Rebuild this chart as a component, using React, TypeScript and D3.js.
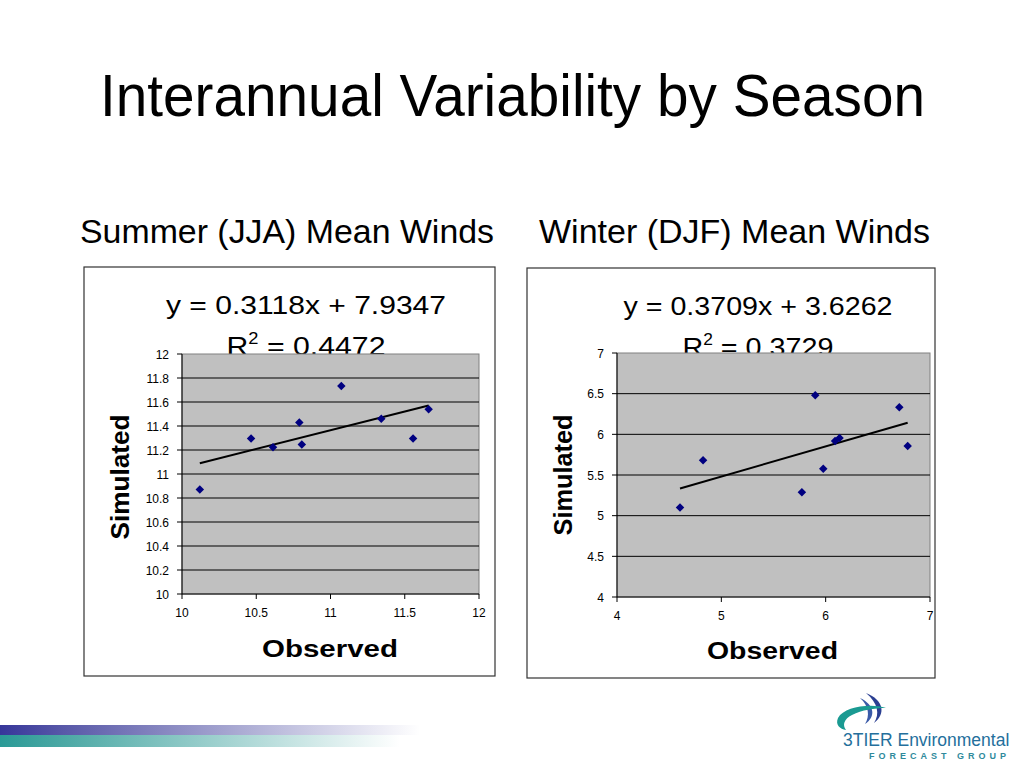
import React from "react";
import * as d3 from "d3";

// summer (JJA) observed vs simulated mean winds
const summerObs = [10.12, 10.465, 10.613, 10.79, 10.807, 11.073, 11.342, 11.556, 11.661];
const summerSim = [10.87, 11.295, 11.222, 11.43, 11.245, 11.733, 11.461, 11.295, 11.539];
const summerXTicks = [10, 10.5, 11, 11.5, 12];
const summerYTicks = [10, 10.2, 10.4, 10.6, 10.8, 11, 11.2, 11.4, 11.6, 11.8, 12];

// winter (DJF)
const winterObs = [4.604, 4.825, 5.772, 5.9, 5.977, 6.09, 6.133, 6.706, 6.786];
const winterSim = [5.1, 5.68, 5.287, 6.48, 5.578, 5.918, 5.955, 6.332, 5.857];
const winterXTicks = [4, 5, 6, 7];
const winterYTicks = [4, 4.5, 5, 5.5, 6, 6.5, 7];

const FONT = "'Liberation Sans', Arial, sans-serif";

interface Fit {
  slope: number;
  intercept: number;
  r2: string;
  eq: string;
}

const summerFit: Fit = { slope: 0.3118, intercept: 7.9347, eq: "y = 0.3118x + 7.9347", r2: "0.4472" };
const winterFit: Fit = { slope: 0.3709, intercept: 3.6262, eq: "y = 0.3709x + 3.6262", r2: "0.3729" };

interface ScatterProps {
  box: [number, number, number, number];
  plot: [number, number, number, number];
  xs: number[];
  ys: number[];
  xTicks: number[];
  yTicks: number[];
  fit: Fit;
  eqX: number;
  eqY: number;
  eqLen: number;
  r2Len: number;
  simX: number;
  simY: number;
  simLen: number;
  obsX: number;
  obsY: number;
  obsLen: number;
}

function Scatter(p: ScatterProps) {
  const [bx, by, bw, bh] = p.box;
  const [px0, py0, px1, py1] = p.plot;
  const { xTicks, yTicks, fit } = p;
  const x = d3
    .scaleLinear()
    .domain([xTicks[0], xTicks[xTicks.length - 1]])
    .range([px0, px1]);
  const y = d3
    .scaleLinear()
    .domain([yTicks[0], yTicks[yTicks.length - 1]])
    .range([py1, py0]);
  const xMin = d3.min(p.xs)!;
  const xMax = d3.max(p.xs)!;
  const trend = d3
    .line<number>()
    .x((d) => x(d))
    .y((d) => y(fit.slope * d + fit.intercept))([xMin, xMax]);
  const marker = d3.symbol(d3.symbolSquare, 36)()!;

  return (
    <g>
      <rect x={bx} y={by} width={bw} height={bh} fill="#fff" stroke="#333" strokeWidth={1.2} />
      <text x={p.eqX} y={p.eqY} textAnchor="middle" fontSize={26.5} fontFamily={FONT}
        textLength={p.eqLen} lengthAdjust="spacingAndGlyphs">
        {fit.eq}
      </text>
      <text x={p.eqX} y={p.eqY + 41} textAnchor="middle" fontSize={26.5} fontFamily={FONT}
        textLength={p.r2Len} lengthAdjust="spacingAndGlyphs">
        R<tspan dy={-11} fontSize={16}>2</tspan>
        <tspan dy={11}> = {fit.r2}</tspan>
      </text>
      <rect x={px0} y={py0} width={px1 - px0} height={py1 - py0} fill="#c0c0c0" stroke="#808080" />
      {yTicks.slice(1, -1).map((t) => (
        <line key={t} x1={px0} x2={px1} y1={y(t)} y2={y(t)} stroke="#000" strokeWidth={1} />
      ))}
      <line x1={px0} x2={px0} y1={py0} y2={py1} stroke="#000" />
      <line x1={px0} x2={px1} y1={py1} y2={py1} stroke="#000" />
      {yTicks.map((t) => (
        <g key={"y" + t}>
          <line x1={px0 - 5} x2={px0} y1={y(t)} y2={y(t)} stroke="#000" />
          <text x={px0 - 13} y={y(t) + 4.5} textAnchor="end" fontSize={12} fontFamily={FONT}>
            {String(t)}
          </text>
        </g>
      ))}
      {xTicks.map((t) => (
        <g key={"x" + t}>
          <line x1={x(t)} x2={x(t)} y1={py1} y2={py1 + 5} stroke="#000" />
          <text x={x(t)} y={py1 + 23} textAnchor="middle" fontSize={12} fontFamily={FONT}>
            {String(t)}
          </text>
        </g>
      ))}
      <path d={trend ?? ""} fill="none" stroke="#000" strokeWidth={2} />
      {p.xs.map((v, i) => (
        <path key={i} d={marker} transform={`translate(${x(v)},${y(p.ys[i])}) rotate(45)`} fill="#000080" />
      ))}
      <text
        transform={`translate(${p.simX},${p.simY}) rotate(-90)`}
        textAnchor="middle"
        fontSize={26}
        fontWeight="bold"
        fontFamily={FONT}
        textLength={p.simLen}
        lengthAdjust="spacingAndGlyphs"
      >
        Simulated
      </text>
      <text x={p.obsX} y={p.obsY} textAnchor="middle" fontSize={23} fontWeight="bold" fontFamily={FONT}
        textLength={p.obsLen} lengthAdjust="spacingAndGlyphs">
        Observed
      </text>
    </g>
  );
}

function Logo() {
  return (
    <g>
      <path d="M866,693 C884,700 886,714 874,723 C880,714 878,703 866,693 Z" fill="#2b3f92" />
      <path d="M860,698 C875,705 876,717 865,724 C870,716 869,706 860,698 Z" fill="#3a5aa8" />
      <path d="M886,708 C870,703 844,707 838,718 C835,725 840,729 846,730 C842,725 844,719 852,715 C862,710 874,708 886,708 Z"
        fill="#1a9a92" />
      <text x={843} y={746} fontSize={17.5} fontFamily={FONT} fill="#246f9c">
        3TIER Environmental
      </text>
      <text x={869} y={759} fontSize={9} fontWeight="bold" fontFamily={FONT} fill="#2f8a9c" letterSpacing={4}>
        FORECAST GROUP
      </text>
    </g>
  );
}

export default function App() {
  return (
    <div style={{ position: "absolute", left: 0, top: 0 }}>
      <svg width={1024} height={768} viewBox="0 0 1024 768" style={{ display: "block" }}>
        <defs>
          <linearGradient id="barTop" x1="0" x2="1" y1="0" y2="0">
            <stop offset="0" stopColor="#36369a" />
            <stop offset="0.15" stopColor="#5858a8" />
            <stop offset="1" stopColor="#ffffff" />
          </linearGradient>
          <linearGradient id="barBot" x1="0" x2="1" y1="0" y2="0">
            <stop offset="0" stopColor="#2a9a96" />
            <stop offset="0.15" stopColor="#4aa8a4" />
            <stop offset="1" stopColor="#ffffff" />
          </linearGradient>
        </defs>
        <rect width={1024} height={768} fill="#fff" />
        <text x={512.5} y={116} textAnchor="middle" fontSize={59} fontFamily={FONT}
          textLength={825} lengthAdjust="spacingAndGlyphs">
          Interannual Variability by Season
        </text>
        <text x={287} y={243} textAnchor="middle" fontSize={34} fontFamily={FONT}
          textLength={414} lengthAdjust="spacingAndGlyphs">
          Summer (JJA) Mean Winds
        </text>
        <text x={734.5} y={243} textAnchor="middle" fontSize={34} fontFamily={FONT}
          textLength={391} lengthAdjust="spacingAndGlyphs">
          Winter (DJF) Mean Winds
        </text>
        <Scatter
          box={[84, 267, 411, 409]}
          plot={[182, 354, 479, 594]}
          xs={summerObs}
          ys={summerSim}
          xTicks={summerXTicks}
          yTicks={summerYTicks}
          fit={summerFit}
          eqX={306}
          eqY={314}
          eqLen={280}
          r2Len={159}
          simX={129}
          simY={477}
          simLen={125}
          obsX={330}
          obsY={657}
          obsLen={136}
        />
        <Scatter
          box={[527, 268, 408, 410]}
          plot={[617, 353, 930, 597]}
          xs={winterObs}
          ys={winterSim}
          xTicks={winterXTicks}
          yTicks={winterYTicks}
          fit={winterFit}
          eqX={758}
          eqY={315}
          eqLen={269}
          r2Len={151}
          simX={572}
          simY={475}
          simLen={121}
          obsX={772.5}
          obsY={659}
          obsLen={131}
        />
        <rect x={0} y={725} width={420} height={10} fill="url(#barTop)" />
        <rect x={0} y={735} width={400} height={12} fill="url(#barBot)" />
        <Logo />
      </svg>
    </div>
  );
}
